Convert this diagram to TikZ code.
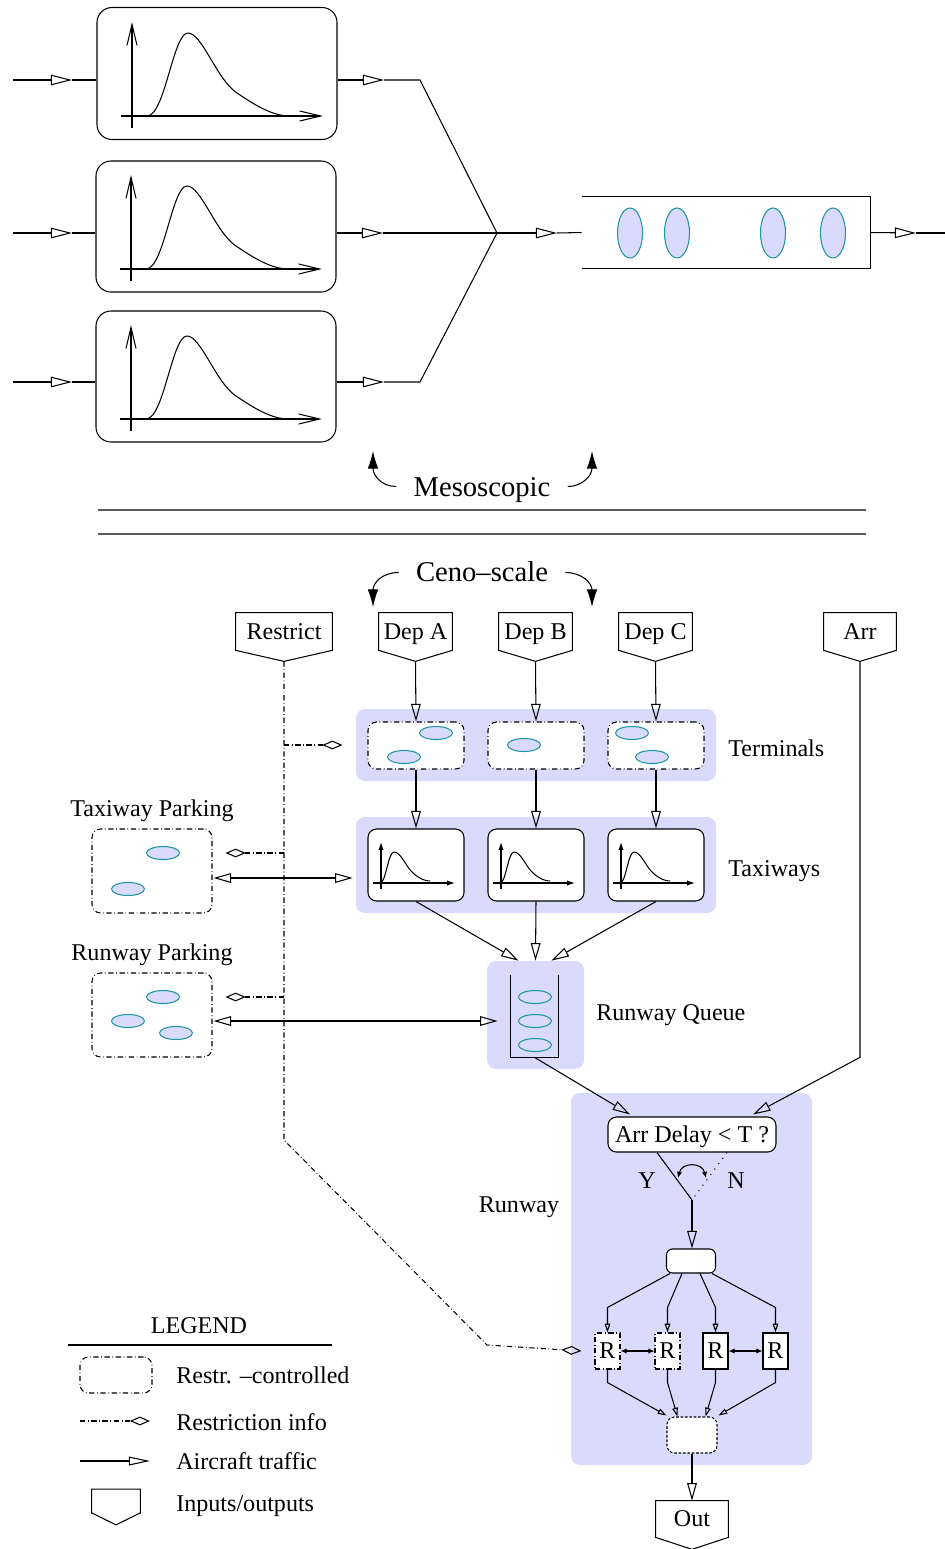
\documentclass[tikz,border=0pt]{standalone}
\usepackage{fontspec}
\setmainfont{Liberation Serif}
\usetikzlibrary{arrows.meta,calc,shapes.geometric}
\newcommand\pxl{0.02cm}
\newcommand\mainfs{\fontsize{13.7}{16}\selectfont}
\newcommand\bigfs{\fontsize{16.3}{19}\selectfont}
\definecolor{lav}{RGB}{217,218,252}
\definecolor{tealb}{RGB}{30,150,160}
\newcommand\iopent[2]{\draw[base] (#1.north west) -- (#1.north east) -- (#1.south east) -- ($(#1.south)+(0,#2)$) coordinate (#1-tip) -- (#1.south west) -- cycle;}
\tikzset{
  base/.style={line width=0.6pt},
  bigtip/.style={base,-{Triangle[open,length=12pt,width=6pt]}},
  midtip/.style={base,-{Triangle[open,length=10pt,width=5.5pt]}},
  legtip/.style={base,-{Triangle[open,length=12pt,width=5pt]}},
  dbltip/.style={base,{Triangle[open,length=10pt,width=5.5pt]}-{Triangle[open,length=10pt,width=5.5pt]}},
  smalltip/.style={base,-{Triangle[open,length=5pt,width=3.2pt]}},
  filldbl/.style={base,{Latex[length=3.5pt,width=3pt]}-{Latex[length=3.5pt,width=3pt]}},
  dashdot/.style={base,dash pattern=on 3pt off 1.5pt on 0.4pt off 1.5pt},
  restr/.style={dashdot,-{Diamond[open,length=11.5pt,width=5pt]}},
  plane/.style={ellipse,draw=tealb,fill=lav,line width=0.6pt,inner sep=0,minimum width=33*\pxl,minimum height=13*\pxl},
  planev/.style={plane,minimum width=25*\pxl,minimum height=50*\pxl},
  bg/.style={fill=lav,rounded corners=0.18cm,inner sep=0},
  curvebox/.style={draw,base,rounded corners=0.3cm,inner sep=0,minimum width=240*\pxl,minimum height=132*\pxl},
  rbox/.style={draw,base,fill=white,rounded corners=0.17cm,inner sep=0,minimum width=96*\pxl,minimum height=47*\pxl},
  dbox/.style={rbox,dashdot},
  lbl/.style={font=\mainfs,inner sep=0,text height=9pt,text depth=0pt},
  biglbl/.style={font=\bigfs,inner sep=0,text height=10.8pt,text depth=0pt},
  ioshape/.style={lbl,minimum height=37*\pxl},
  rn/.style={lbl,draw,base,fill=white,minimum width=25*\pxl,minimum height=36*\pxl},
  rnd/.style={rn,dashdot},
  axarrow/.style={base,-{Straight Barb[length=12pt,width=5.7pt]}},
  saxarrow/.style={base,-{Latex[length=4.5pt,width=3pt]}},
  scalearr/.style={base,-{Latex[length=10pt,width=6pt]}},
  bigcurve/.pic={
    \draw[axarrow] (35,120) -- (35,14);
    \draw[axarrow] (24,108) -- (226,108);
    \draw[base] (50,108) .. controls (68,108) and (76,25) .. (91,25) .. controls (105,25) and (120,72) .. (140,85) .. controls (158,97) and (175,108) .. (193,108);
  },
  smallcurve/.pic={
    \draw[saxarrow] (13,60) -- (13,13);
    \draw[saxarrow] (5,54) -- (87,54);
    \draw[base] (12,54) .. controls (18,54) and (20,23) .. (26,23) .. controls (33,23) and (38,38) .. (45,44) .. controls (52,50) and (57,52) .. (62,52);
  },
}
\begin{document}
\begin{tikzpicture}[x=0.02cm,y=-0.02cm]
\useasboundingbox (0,0) rectangle (945,1549);
% ================= top: mesoscopic =================
\node[curvebox] (b1) at (217,73.5) {};
\node[curvebox,minimum height=131*\pxl] (b2) at (216,226.5) {};
\node[curvebox,minimum height=131*\pxl] (b3) at (216,376.5) {};
\pic at (97,8) {bigcurve};
\pic at (96,161) {bigcurve};
\pic at (96,311) {bigcurve};
\coordinate (i1) at (13,80);  \coordinate (a1) at (72,80);
\coordinate (i2) at (13,233); \coordinate (a2) at (72,233);
\coordinate (i3) at (13,382); \coordinate (a3) at (72,382);
\draw[bigtip] (i1) -- (a1); \draw[base] (a1) -- (b1.west|-a1);
\draw[bigtip] (i2) -- (a2); \draw[base] (a2) -- (b2.west|-a2);
\draw[bigtip] (i3) -- (a3); \draw[base] (a3) -- (b3.west|-a3);
\coordinate (o1) at (384,80);  \coordinate (k1) at (420,80);
\coordinate (o2) at (383,233);
\coordinate (o3) at (384,382); \coordinate (k3) at (420,382);
\coordinate (m) at (497,233);
\draw[bigtip] (b1.east|-o1) -- (o1); \draw[base] (o1) -- (k1) -- (m);
\draw[bigtip] (b2.east|-o2) -- (o2); \draw[base] (o2) -- (m);
\draw[bigtip] (b3.east|-o3) -- (o3); \draw[base] (o3) -- (k3) -- (m);
\node[inner sep=0,minimum width=288*\pxl,minimum height=71*\pxl] (q) at (726,232.5) {};
\coordinate (a4) at (557,233);
\draw[bigtip] (m) -- (a4); \draw[base] (a4) -- (q.west);
\draw[base] (q.north west) -- (q.north east) -- (q.south east) -- (q.south west);
\node[planev] (p1) at (630,233) {};
\node[planev] (p2) at (677,233) {};
\node[planev] (p3) at (773,233) {};
\node[planev] (p4) at (833,233) {};
\coordinate (a5) at (916,233); \coordinate (e5) at (945,233);
\draw[bigtip] (q.east) -- (a5); \draw[base] (a5) -- (e5);
% scale labels
\node[biglbl] (meso) at (482,487.5) {Mesoscopic};
\draw[scalearr] ($(meso.west)+(-17,-1)$) .. controls (382,486.5) and (373,476) .. (373,451);
\draw[scalearr] ($(meso.east)+(17,-1)$) .. controls (582,486.5) and (592,476) .. (592,451);
\draw[base,black!65] (98,510) -- (866,510);
\draw[base,black!65] (98,534) -- (866,534);
\node[biglbl] (ceno) at (482,572.5) {Ceno–scale};
\draw[scalearr] ($(ceno.west)+(-17,0)$) .. controls (382,572.5) and (373,583) .. (373,607);
\draw[scalearr] ($(ceno.east)+(17,0)$) .. controls (582,572.5) and (592,583) .. (592,607);
% ================= bottom: ceno-scale =================
\node[bg,minimum width=360*\pxl,minimum height=72*\pxl] (bgT) at (536,745) {};
\node[bg,minimum width=360*\pxl,minimum height=96*\pxl] (bgX) at (536,865) {};
\node[bg,minimum width=97*\pxl,minimum height=108*\pxl] (bgQ) at (535.5,1015) {};
\node[bg,minimum width=241*\pxl,minimum height=372*\pxl] (bgR) at (691.5,1279) {};
% inputs
\node[ioshape,minimum width=96*\pxl] (rst) at (284,631.5) {Restrict};
\node[ioshape,minimum width=73*\pxl] (depA) at (415.5,631.5) {Dep A};
\node[ioshape,minimum width=73*\pxl] (depB) at (535.5,631.5) {Dep B};
\node[ioshape,minimum width=73*\pxl] (depC) at (655.5,631.5) {Dep C};
\node[ioshape,minimum width=72*\pxl] (arr) at (860,631.5) {Arr};
\iopent{rst}{11} \iopent{depA}{11} \iopent{depB}{11} \iopent{depC}{11} \iopent{arr}{11}
% terminals
\node[dbox] (tA) at (416,745.5) {};
\node[dbox] (tB) at (536,745.5) {};
\node[dbox] (tC) at (656,745.5) {};
\node[plane] at (436,733) {};
\node[plane] at (404,757) {};
\node[plane] at (524,745) {};
\node[plane] at (632,733) {};
\node[plane] at (652,757) {};
\node[lbl,anchor=west] at (728,749) {Terminals};
% taxiways
\node[rbox,minimum height=72*\pxl] (xA) at (416,865) {};
\node[rbox,minimum height=72*\pxl] (xB) at (536,865) {};
\node[rbox,minimum height=72*\pxl] (xC) at (656,865) {};
\pic at (368,829) {smallcurve};
\pic at (488,829) {smallcurve};
\pic at (608,829) {smallcurve};
\node[lbl,anchor=west] at (728,869) {Taxiways};
\draw[midtip] (depA-tip) -- (tA.north);
\draw[midtip] (depB-tip) -- (tB.north);
\draw[midtip] (depC-tip) -- (tC.north);
\draw[midtip] (tA.south) -- (xA.north);
\draw[midtip] (tB.south) -- (xB.north);
\draw[midtip] (tC.south) -- (xC.north);
% runway queue
\node[inner sep=0,minimum width=47*\pxl,minimum height=82*\pxl] (qi) at (534.5,1016) {};
\draw[base] (qi.north west) -- (qi.south west) -- (qi.south east) -- (qi.north east);
\node[plane] at (535,997) {};
\node[plane] at (535,1021) {};
\node[plane] at (535,1045) {};
\node[lbl,anchor=west] at (596,1013) {Runway Queue};
\draw[midtip] (xA.south) -- ($(bgQ.north)+(-17,0)$);
\draw[midtip] (xB.south) -- (bgQ.north);
\draw[midtip] (xC.south) -- ($(bgQ.north)+(16,0)$);
% parking
\node[lbl] at (152,809) {Taxiway Parking};
\node[lbl] at (152,953) {Runway Parking};
\node[dbox,minimum width=120*\pxl,minimum height=84*\pxl] (tp) at (152,871) {};
\node[dbox,minimum width=120*\pxl,minimum height=84*\pxl] (rp) at (152,1015) {};
\node[plane] at (163,853) {};
\node[plane] at (128,889) {};
\node[plane] at (163,997) {};
\node[plane] at (128,1021) {};
\node[plane] at (176,1033) {};
\draw[dbltip] ($(tp.east)+(1,7)$) -- ($(bgX.west)+(-3,13)$);
\draw[dbltip] ($(rp.east)+(1,6)$) -- ($(bgQ.west)+(11,6)$);
% runway
\node[lbl] at (519,1205) {Runway};
\node[lbl,draw,base,fill=white,rounded corners=0.17cm,minimum width=168*\pxl,minimum height=35*\pxl] (dn) at (692,1134.5) {Arr Delay < T ?};
\draw[midtip] (qi.south) -- ($(dn.north)+(-62,-2)$);
\draw[midtip] (arr-tip) -- (arr-tip|-qi.south) -- ($(dn.north)+(61,-2)$);
\node[draw,base,fill=white,rounded corners=0.12cm,minimum width=49*\pxl,minimum height=24*\pxl,inner sep=0] (sm) at (691,1261) {};
\coordinate (yj) at (692,1200);
\draw[base] ($(dn.south)+(-35,0)$) -- (yj);
\draw[base,dash pattern=on 0.6pt off 3.2pt] ($(dn.south)+(35,0)$) -- (yj);
\draw[midtip] (yj) -- (yj|-sm.north);
\draw[filldbl] (678,1178) .. controls (682,1162) and (702,1162) .. (706,1178);
\node[lbl] at (647,1181) {Y};
\node[lbl] at (736,1181) {N};
\node[rnd] (R1) at (607.5,1351) {R};
\node[rnd] (R2) at (667.5,1351) {R};
\node[rn] (R3) at (715.5,1351) {R};
\node[rn] (R4) at (775.5,1351) {R};
\draw[smalltip] ($(sm.south west)+(4,0)$) -- ($(R1.north)+(0,-25)$) -- (R1.north);
\draw[smalltip] ($(sm.south west)+(16,0)$) -- ($(R2.north)+(0,-25)$) -- (R2.north);
\draw[smalltip] ($(sm.south east)+(-16,0)$) -- ($(R3.north)+(0,-25)$) -- (R3.north);
\draw[smalltip] ($(sm.south east)+(-4,0)$) -- ($(R4.north)+(0,-25)$) -- (R4.north);
\draw[filldbl] (R1.east) -- (R2.west);
\draw[filldbl] (R3.east) -- (R4.west);
\node[draw,base,fill=white,rounded corners=0.15cm,dash pattern=on 1.5pt off 1pt,minimum width=50*\pxl,minimum height=36*\pxl,inner sep=0] (bn) at (692,1435) {};
\draw[smalltip] (R1.south) -- ++(0,13) -- ($(bn.north west)+(0,-1)$);
\draw[smalltip] (R2.south) -- ++(0,13) -- ($(bn.north west)+(11,0)$);
\draw[smalltip] (R3.south) -- ++(0,13) -- ($(bn.north east)+(-12,0)$);
\draw[smalltip] (R4.south) -- ++(0,13) -- ($(bn.north east)+(1,-1)$);
\node[lbl,minimum width=72*\pxl,minimum height=36*\pxl] (out) at (692,1519) {Out};
\iopent{out}{12}
\draw[midtip] (bn.south) -- (out.north);
% restriction info
\coordinate (rc1) at (284,1140); \coordinate (rc2) at (487,1345);
\draw[restr] (rst-tip) -- (rc1) -- (rc2) -- ($(R1.west)+(-13,0)$);
\coordinate (rb1) at (284,745); \coordinate (rb2) at (284,853); \coordinate (rb3) at (284,997);
\draw[restr] (rb1) -- ($(tA.west|-rb1)+(-25,0)$);
\draw[restr] (rb2) -- ($(tp.east|-rb2)+(13,0)$);
\draw[restr] (rb3) -- ($(rp.east|-rb3)+(13,0)$);
% legend
\node[lbl] (lgt) at (199,1325.5) {LEGEND};
\coordinate (lga) at (68,1345); \coordinate (lgb) at (332,1345);
\draw[base] (lga) -- (lgb);
\node[dbox,minimum width=72*\pxl,minimum height=36*\pxl] (lgbox) at (116,1375) {};
\node[lbl,anchor=west] at (176,1375.5) {Restr. –controlled};
\coordinate (lr1) at (80,1421); \coordinate (lr2) at (150,1421);
\draw[restr] (lr1) -- (lr2);
\node[lbl,anchor=west] at (176,1423) {Restriction info};
\coordinate (lt1) at (80,1461); \coordinate (lt2) at (150,1461);
\draw[legtip] (lt1) -- (lt2);
\node[lbl,anchor=west] at (176,1462) {Aircraft traffic};
\node[inner sep=0,minimum width=48*\pxl,minimum height=23*\pxl] (lgp) at (116,1501) {};
\iopent{lgp}{12}
\node[lbl,anchor=west] at (176,1504) {Inputs/outputs};
\end{tikzpicture}
\end{document}
